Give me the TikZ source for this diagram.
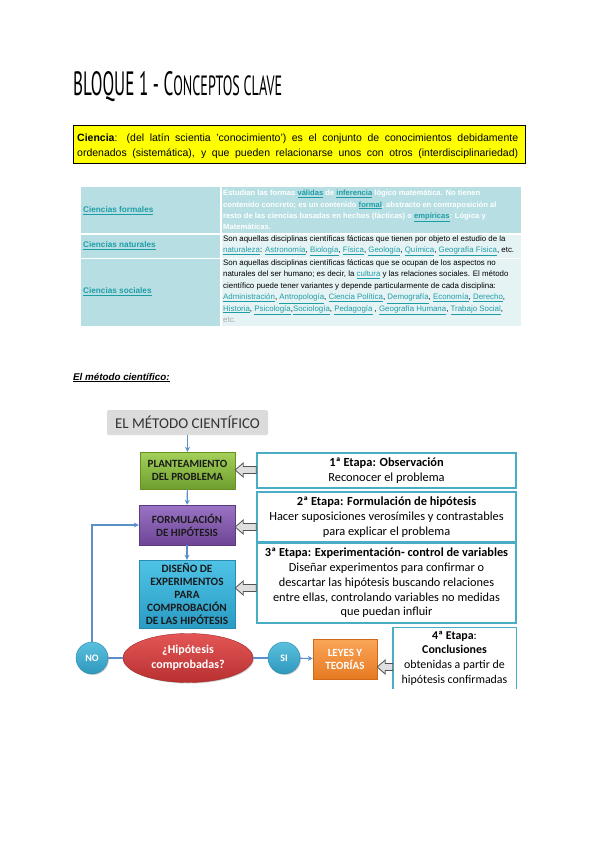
\documentclass[tikz,border=0pt]{standalone}
\usepackage{fontspec}
\setmainfont{Liberation Sans}
\newfontfamily\calib{Carlito}
\newfontfamily\titlefont{PT Sans}
\usetikzlibrary{calc,shadows,arrows.meta,shapes.geometric}
\definecolor{yel}{HTML}{FFFF00}
\definecolor{tealc}{HTML}{B7DFE3}
\definecolor{lightc}{HTML}{E6F3F5}
\definecolor{lnk}{HTML}{1F9DA6}
\definecolor{conn}{HTML}{5B8FC9}
\definecolor{etb}{HTML}{4BACC6}
\definecolor{txtd}{HTML}{1A1A1A}
\definecolor{circtop}{HTML}{5BC0DE}
\definecolor{circbot}{HTML}{2E98BC}
\definecolor{circdraw}{HTML}{2A8AB0}
\newcommand\lk[1]{{\color{lnk}\underline{#1}}}
\newcommand\blockarrow[3]{%
  \filldraw[blockarr]
    ($(#1.west |- 0,#3)+(0,-3.5)$) -- ($(#2.east |- 0,#3)+(8,-3.5)$) --
    ($(#2.east |- 0,#3)+(8,-7)$) -- (#2.east |- 0,#3) --
    ($(#2.east |- 0,#3)+(8,7)$) -- ($(#2.east |- 0,#3)+(8,3.5)$) --
    ($(#1.west |- 0,#3)+(0,3.5)$) -- cycle;}
\tikzset{
  cell/.style={anchor=north west, inner sep=0, minimum width=139, draw=none},
  cellr/.style={anchor=north west, inner sep=0, minimum width=299, draw=none},
  tabtxt/.style={anchor=north west, inner sep=0, align=left, font=\fontsize{7.9}{11.4}\selectfont},
  tablbl/.style={anchor=west, inner sep=0, font=\fontsize{8.2}{9}\selectfont\bfseries},
  flowbox/.style={inner sep=0, align=center, font=\calib\bfseries\fontsize{11}{13}\selectfont,
    drop shadow={opacity=0.35, shadow xshift=1.2pt, shadow yshift=-1.2pt}},
  etapa/.style={draw=etb, line width=1.4pt, fill=white, inner sep=0, align=center,
    font=\calib\fontsize{12.4}{14.8}\selectfont},
  conarr/.style={draw=conn, line width=1.1pt, -{Stealth[length=5pt,width=5pt]}},
  conline/.style={draw=conn, line width=1.1pt},
  blockarr/.style={fill=gray!25, draw=gray!65!black, line width=0.8pt},
  circ/.style={circle, minimum size=32, inner sep=0, top color=circtop, bottom color=circbot,
    draw=circdraw, text=white, font=\calib\bfseries\fontsize{10}{11}\selectfont,
    drop shadow={opacity=0.35, shadow xshift=1pt, shadow yshift=-1pt}},
}
\begin{document}
\begin{tikzpicture}[x=1pt,y=-1pt]
\fill[white] (0,0) rectangle (600,848);
\useasboundingbox (0,0) rectangle (600,848);

% Title
\node[anchor=south west, inner sep=0] (title) at (73,102)
  {\resizebox{209pt}{24pt}{\titlefont\fontsize{20}{20}\selectfont BLOQUE 1 - C{\fontsize{16.5}{16}\selectfont ONCEPTOS CLAVE}}};

% Definition box
\node[draw=black, line width=1pt, fill=yel, minimum width=452, minimum height=38,
  anchor=north west, inner sep=0] (def) at (73,125) {};
\node[anchor=base west, inner sep=0, font=\fontsize{10.5}{12}\selectfont] (defa) at (77,141.5)
  {\makebox[441pt][s]{\textbf{Ciencia}: (del latín scientia 'conocimiento') es el conjunto de conocimientos debidamente}};
\node[anchor=base west, inner sep=0, font=\fontsize{10.5}{12}\selectfont] (defb) at (77,156.5)
  {\makebox[441pt][s]{ordenados (sistemática), y que pueden relacionarse unos con otros (interdisciplinariedad)}};

% Table
\node[cell, fill=tealc, minimum height=46] (c11) at (81,187) {};
\node[cellr, fill=tealc, minimum height=46] (c12) at (222,187) {};
\node[cell, fill=tealc, minimum height=23] (c21) at (81,234.5) {};
\node[cellr, fill=lightc, minimum height=23] (c22) at (222,234.5) {};
\node[cell, fill=tealc, minimum height=67] (c31) at (81,259) {};
\node[cellr, fill=lightc, minimum height=67] (c32) at (222,259) {};

\node[tablbl] (l1) at (83,211) {\lk{Ciencias formales}};
\node[tablbl] (l2) at (83,246) {\lk{Ciencias naturales}};
\node[tablbl] (l3) at (83,292) {\lk{Ciencias sociales}};

\node[tabtxt, text=white, font=\fontsize{7.6}{11.3}\selectfont\bfseries] (t1) at (223,190)
  {Estudian las formas \lk{válidas} de \lk{inferencia} lógico matemática. No tienen\\
   contenido concreto; es un contenido \lk{formal}, abstracto en contraposición al\\
   resto de las ciencias basadas en hechos (fácticas) o \lk{empíricas}: Lógica y\\
   Matemáticas.};
\node[tabtxt, text=black] (t2) at (223,235)
  {Son aquellas disciplinas científicas fácticas que tienen por objeto el estudio de la\\
   \lk{naturaleza}: \lk{Astronomía}, \lk{Biología}, \lk{Física}, \lk{Geología}, \lk{Química}, \lk{Geografía Física}, etc.};
\node[tabtxt, text=black] (t3) at (223,259.5)
  {Son aquellas disciplinas científicas fácticas que se ocupan de los aspectos no\\
   naturales del ser humano; es decir, la \lk{cultura} y las relaciones sociales. El método\\
   científico puede tener variantes y depende particularmente de cada disciplina:\\
   \lk{Administración}, \lk{Antropología}, \lk{Ciencia Política}, \lk{Demografía}, \lk{Economía}, \lk{Derecho},\\
   \lk{Historia}, \lk{Psicología},\lk{Sociología}, \lk{Pedagogía} , \lk{Geografía Humana}, \lk{Trabajo Social},\\
   {\color{gray!70}etc.}};

% Section heading
\node[anchor=base west, inner sep=0, font=\fontsize{9.8}{12}\selectfont\bfseries\itshape] (sec) at (73,380)
  {\underline{El método científico:}};

% Flowchart
\node[fill=gray!28, rounded corners=1.5pt, minimum width=161, minimum height=25, inner sep=0,
  font=\calib\fontsize{15}{16}\selectfont, text=black!80] (mc) at (187.5,422.5) {EL MÉTODO CIENTÍFICO};

\node[flowbox, minimum width=95, minimum height=37, top color={rgb,255:red,163;green,209;blue,90},
  bottom color={rgb,255:red,110;green,158;blue,46}, draw={rgb,255:red,107;green,142;blue,35}, text=txtd]
  (g) at (187.5,470.5) {PLANTEAMIENTO\\DEL PROBLEMA};
\node[flowbox, minimum width=96, minimum height=40, top color={rgb,255:red,154;green,116;blue,196},
  bottom color={rgb,255:red,110;green,69;blue,150}, draw={rgb,255:red,94;green,58;blue,128}, text=txtd]
  (p) at (187,525) {FORMULACIÓN\\DE HIPÓTESIS};
\node[flowbox, minimum width=96, minimum height=68, top color={rgb,255:red,79;green,195;blue,230},
  bottom color={rgb,255:red,42;green,156;blue,196}, draw={rgb,255:red,42;green,138;blue,176}, text=txtd,
  font=\calib\bfseries\fontsize{11.2}{13}\selectfont]
  (b) at (187,594) {DISEÑO DE\\EXPERIMENTOS\\PARA\\COMPROBACIÓN\\DE LAS HIPÓTESIS};

\node[etapa, minimum width=259, minimum height=35] (e1) at (386.5,470.5)
  {\textbf{1ª Etapa: Observación}\\Reconocer el problema};
\node[etapa, minimum width=259, minimum height=50] (e2) at (386.5,517)
  {\textbf{2ª Etapa: Formulación de hipótesis}\\Hacer suposiciones verosímiles y contrastables\\para explicar el problema};
\node[etapa, minimum width=259, minimum height=80, font=\calib\fontsize{12.3}{14.7}\selectfont] (e3) at (386.5,583)
  {\textbf{3ª Etapa: Experimentación- control de variables}\\Diseñar experimentos para confirmar o\\descartar las hipótesis buscando relaciones\\entre ellas, controlando variables no medidas\\que puedan influir};
\node[inner sep=0, minimum width=123, minimum height=61, align=center, fill=white,
  font=\calib\fontsize{11.9}{14.6}\selectfont] (e4) at (454.5,658)
  {\textbf{4ª Etapa}:\\\textbf{Conclusiones}\\obtenidas a partir de\\hipótesis confirmadas};
\draw[draw=etb, line width=1.4pt] (e4.south west) -- (e4.north west) -- (e4.north east) -- (e4.south east);

\node[circ] (no) at (92,658) {NO};
\node[circ] (si) at (284,658) {SI};
\node[ellipse, minimum width=130, minimum height=49, inner sep=0, align=center,
  top color={rgb,255:red,228;green,86;blue,86}, bottom color={rgb,255:red,184;green,48;blue,48},
  draw={rgb,255:red,160;green,40;blue,40}, text=white, font=\calib\bfseries\fontsize{12}{15}\selectfont,
  drop shadow={opacity=0.35, shadow xshift=1pt, shadow yshift=-1pt}] (ell) at (188,658) {¿Hipótesis\\comprobadas?};
\node[flowbox, minimum width=64, minimum height=40, top color={rgb,255:red,250;green,165;blue,89},
  bottom color={rgb,255:red,231;green,122;blue,34}, draw={rgb,255:red,208;green,106;blue,26}, text=white]
  (ly) at (345,659) {LEYES Y\\TEORÍAS};

% connectors
\draw[conarr] (mc) -- (g);
\draw[conarr] (g) -- (p);
\draw[conarr] (p) -- (b);
\draw[conline] (no) -- (ell);
\draw[conline] (ell) -- (si);
\draw[conarr] (si) -- (ly);
\draw[conarr] (no.north) |- (p.west);

% block arrows
\blockarrow{e1}{g}{470}
\blockarrow{e2}{p}{527}
\blockarrow{e3}{b}{588}
\blockarrow{e4}{ly}{667}
\end{tikzpicture}
\end{document}
